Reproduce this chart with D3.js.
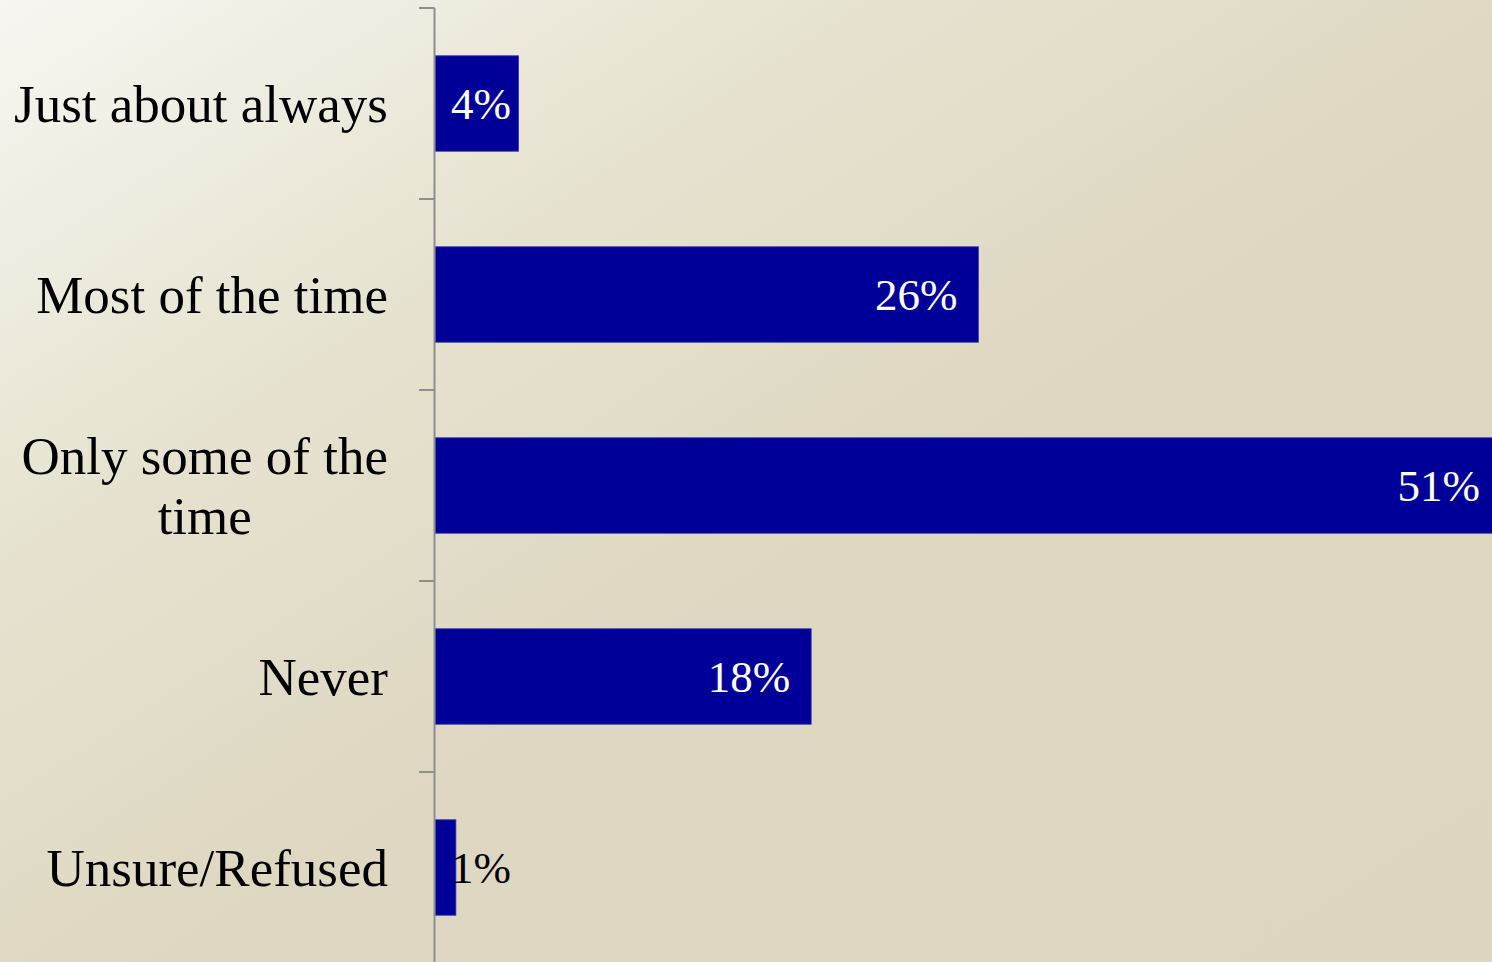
<!DOCTYPE html>
<html lang="en">
<head>
    <meta charset="UTF-8">
    <title>Frequency Bar Chart</title>
    <script src="https://d3js.org/d3.v7.min.js"></script>
    <style>
        body {
            margin: 0;
            overflow: hidden;
        }
        svg {
            display: block;
            font-family: "Liberation Serif", "Times New Roman", serif;
        }
    </style>
</head>
<body>
    <div id="chart"></div>

    <script>
        // Chart data
        const categories = ["Just about always", "Most of the time", "Only some of the time", "Never", "Unsure/Refused"];
        const values = [4, 26, 51, 18, 1];
        // how category labels wrap
        const labelLines = [["Just about always"], ["Most of the time"], ["Only some of the", "time"], ["Never"], ["Unsure/Refused"]];

        const W = 1492, H = 962;
        const axisX = 435;

        const svg = d3.select("#chart")
            .append("svg")
            .attr("width", W)
            .attr("height", H);

        // background gradient
        const defs = svg.append("defs");
        const grad = defs.append("linearGradient")
            .attr("id", "bg")
            .attr("x1", "0").attr("y1", "0")
            .attr("x2", "1").attr("y2", "1");
        grad.append("stop").attr("offset", "0").attr("stop-color", "#f7f6f1");
        grad.append("stop").attr("offset", "0.3").attr("stop-color", "#e6e2cf");
        grad.append("stop").attr("offset", "0.55").attr("stop-color", "#ded8c2");
        grad.append("stop").attr("offset", "1").attr("stop-color", "#ddd7bf");

        svg.append("rect")
            .attr("width", W)
            .attr("height", H)
            .attr("fill", "url(#bg)");

        // the widest bar runs past the right edge of the picture
        const x = d3.scaleLinear().domain([0, 51]).range([axisX, axisX + 20.9 * 51]);
        const y = d3.scaleBand()
            .domain(categories)
            .range([8, 963])
            .paddingInner(0.5)
            .paddingOuter(0.25);

        const data = categories.map((c, i) => ({ cat: c, value: values[i], lines: labelLines[i] }));

        // bars
        svg.selectAll("rect.bar")
            .data(data)
            .enter()
            .append("rect")
            .attr("class", "bar")
            .attr("x", x(0))
            .attr("y", d => y(d.cat))
            .attr("width", d => x(d.value) - x(0))
            .attr("height", y.bandwidth())
            .attr("fill", "#000099")
            .attr("stroke", "#3c3caa")
            .attr("stroke-width", 0.8);

        // axis line and ticks at band edges
        const axis = svg.append("g").attr("class", "y-axis");
        const edges = categories.map(c => y(c) - y.step() * 0.25);
        edges.push(edges[edges.length - 1] + y.step());
        axis.append("line")
            .attr("x1", axisX - 0.5).attr("x2", axisX - 0.5)
            .attr("y1", edges[0]).attr("y2", H)
            .attr("stroke", "#8e8e8e")
            .attr("stroke-width", 2);
        axis.selectAll("line.tick")
            .data(edges)
            .enter()
            .append("line")
            .attr("class", "tick")
            .attr("x1", axisX - 16).attr("x2", axisX - 0.5)
            .attr("y1", d => d).attr("y2", d => d)
            .attr("stroke", "#8e8e8e")
            .attr("stroke-width", 2);

        // category labels
        const labelRight = 388;
        const lineH = 60;
        data.forEach(d => {
            const g = svg.append("text")
                .attr("font-size", "53px")
                .attr("fill", "#000");
            const n = d.lines.length;
            const cy = y(d.cat) + y.bandwidth() / 2;
            d.lines.forEach((ln, j) => {
                g.append("tspan")
                    .attr("y", cy + (j - (n - 1) / 2) * lineH)
                    .attr("dy", "0.35em")
                    .text(ln);
            });
            if (n === 1) {
                g.attr("text-anchor", "end");
                g.selectAll("tspan").attr("x", labelRight);
            } else {
                let maxW = 0;
                g.selectAll("tspan").each(function () {
                    maxW = Math.max(maxW, this.getComputedTextLength());
                });
                g.attr("text-anchor", "middle");
                g.selectAll("tspan").attr("x", labelRight - maxW / 2);
            }
        });

        // value labels, inside the bar end; pushed right when the bar is too short
        data.forEach(d => {
            const t = svg.append("text")
                .attr("font-size", "45px")
                .attr("text-anchor", "end")
                .attr("y", y(d.cat) + y.bandwidth() / 2)
                .attr("dy", "0.35em")
                .text(d.value + "%");
            const tw = t.node().getComputedTextLength();
            const end = x(d.value);
            const right = Math.max(end - 21, x(0) + 16 + tw);
            t.attr("x", right)
                .attr("fill", end - x(0) > tw + 20 ? "#ffffff" : "#000000");
        });
    </script>
</body>
</html>
